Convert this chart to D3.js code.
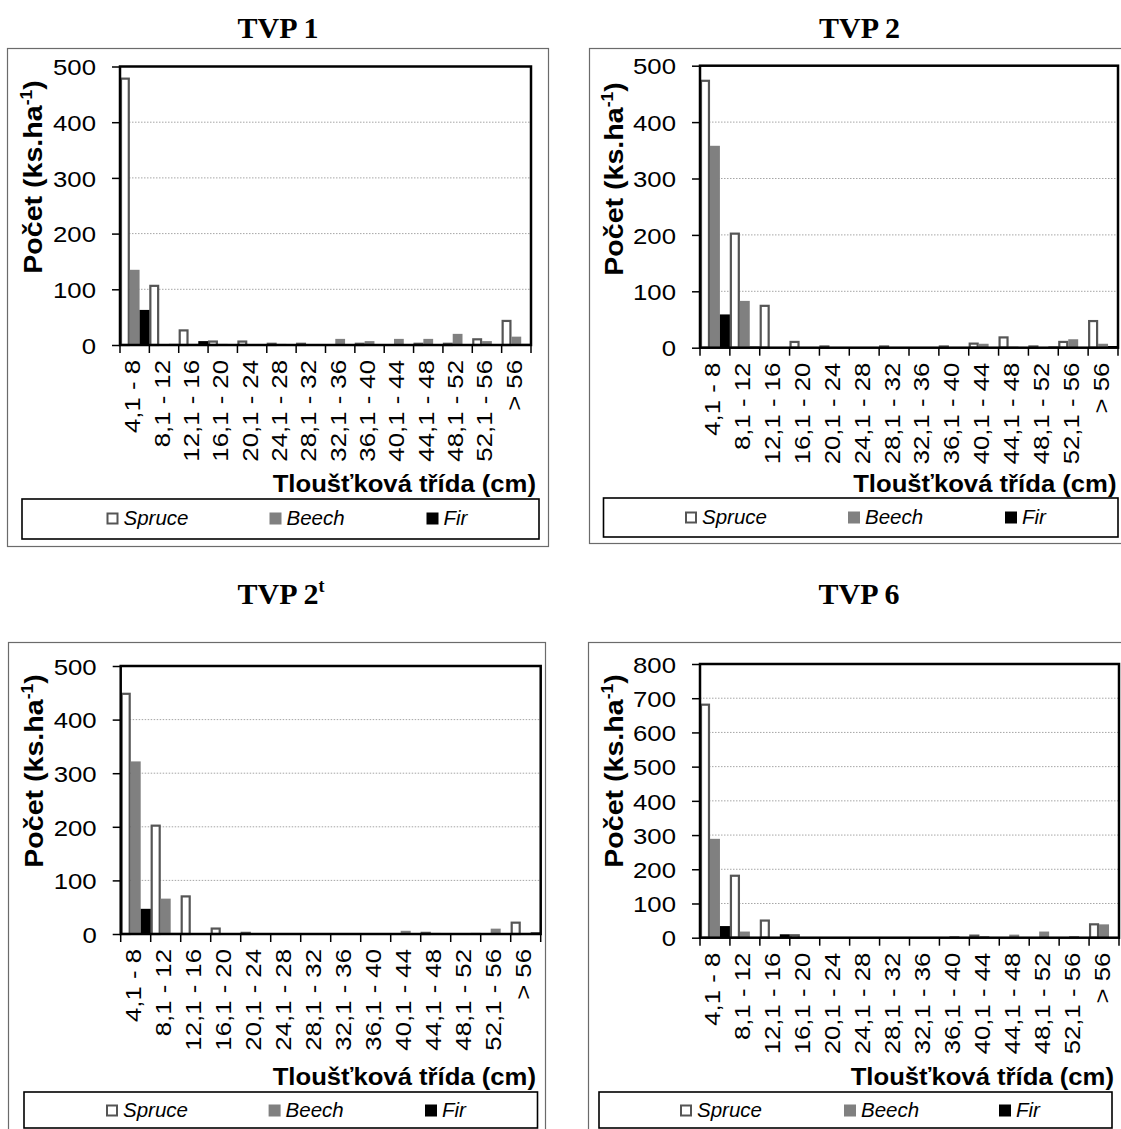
<!DOCTYPE html>
<html><head><meta charset="utf-8">
<script src="https://cdn.jsdelivr.net/npm/d3@7"></script>
<style>body{margin:0;background:#fff} svg{display:block}</style>
</head><body>
<svg id="c" width="1121" height="1129"></svg>
<script>
// ---------- DATA ----------
const categories = ["4,1 - 8","8,1 - 12","12,1 - 16","16,1 - 20","20,1 - 24","24,1 - 28","28,1 - 32",
  "32,1 - 36","36,1 - 40","40,1 - 44","44,1 - 48","48,1 - 52","52,1 - 56","> 56"];
const seriesNames = ["Spruce","Beech","Fir"];
const panelTitles = ["TVP 1","TVP 2","TVP 2","TVP 6"];
const panelTitleSup = ["","","t",""];
const xAxisTitle = "Tloušťková třída (cm)";
const yAxisTitle = "Počet (ks.ha";
const yAxisTitleSup = "-1";

const tvp1Spruce = [480,108,28,8,8,4,4,0,4,0,4,4,12,45];
const tvp1Beech  = [135,0,2,2,0,2,0,11,7,11,11,20,7,15];
const tvp1Fir    = [63,2,7,0,0,0,0,0,0,0,0,0,0,2];

const tvp2Spruce = [475,204,76,12,4,0,4,0,4,9,20,4,12,49];
const tvp2Beech  = [358,83,1,0,0,0,0,0,0,7,2,0,15,7];
const tvp2Fir    = [59,2,0,0,0,0,0,0,0,0,0,2,0,3];

const tvp2tSpruce = [450,204,72,12,4,0,0,0,0,0,4,0,0,23];
const tvp2tBeech  = [322,66,1,0,0,0,0,0,0,6,2,0,10,2];
const tvp2tFir    = [47,2,0,0,0,0,0,0,0,0,0,2,0,3];

const tvp6Spruce = [684,184,53,10,0,0,0,0,0,9,0,0,0,42];
const tvp6Beech  = [289,18,0,0,0,0,0,0,5,5,9,18,5,39];
const tvp6Fir    = [34,0,10,0,0,0,0,0,0,0,0,0,0,0];

const yTicks500 = [0,100,200,300,400,500];
const yTicks800 = [0,100,200,300,400,500,600,700,800];

// ---------- LAYOUT / STYLE ----------
const seriesFill = ["#ffffff","#808080","#000000"];
const seriesStroke = ["#555555","none","none"];
const SANS = "'Liberation Sans', Arial, sans-serif";
const SERIF = "'Liberation Serif', 'Times New Roman', serif";

const panels = [
  {values:[tvp1Spruce,tvp1Beech,tvp1Fir], ticks:yTicks500,
   outer:[7,48,548,546], plot:[120,66.5,531,345], title:[278,37.5], ytitle:[42,177],
   xtitle:[536,492], legend:[22,499,539,539], markers:[106.5,269.5,426.5], lbase:525},
  {values:[tvp2Spruce,tvp2Beech,tvp2Fir], ticks:yTicks500,
   outer:[589,48,1135,543], plot:[700,65.7,1118,347.7], title:[859.5,37.5], ytitle:[623,179],
   xtitle:[1116.5,492], legend:[603.5,498,1118,537], markers:[685,848,1005], lbase:524},
  {values:[tvp2tSpruce,tvp2tBeech,tvp2tFir], ticks:yTicks500,
   outer:[8,642,545,1140], plot:[120.7,666,540.7,934], title:[281,604], ytitle:[43,771],
   xtitle:[536,1085], legend:[24,1092,537.5,1128], markers:[106,268.6,425], lbase:1117},
  {values:[tvp6Spruce,tvp6Beech,tvp6Fir], ticks:yTicks800,
   outer:[588,642,1135,1140], plot:[700,664,1119,937.7], title:[859,604], ytitle:[623,771],
   xtitle:[1114,1085], legend:[599,1092,1112,1128], markers:[680,844,999], lbase:1117}
];

const svg = d3.select("#c");
svg.append("rect").attr("width",1121).attr("height",1129).attr("fill","#fff");

panels.forEach((p, pi) => {
  const g = svg.append("g");
  const [ox0,oy0,ox1,oy1] = p.outer;
  const [px0,py0,px1,py1] = p.plot;

  // outer chart border
  g.append("rect").attr("x",ox0+0.5).attr("y",oy0+0.5).attr("width",ox1-ox0).attr("height",oy1-oy0)
    .attr("fill","none").attr("stroke","#6b6b6b").attr("stroke-width",1.2);

  // title
  const t = g.append("text").attr("x",p.title[0]).attr("y",p.title[1]).attr("text-anchor","middle")
    .attr("font-family",SERIF).attr("font-weight","bold").attr("font-size",30).attr("fill","#000")
    .text(panelTitles[pi]);
  if (panelTitleSup[pi]) t.append("tspan").attr("font-size",18).attr("dy",-12).text(panelTitleSup[pi]);

  // scales
  const x = d3.scaleBand().domain(categories).range([px0,px1]).paddingInner(0).paddingOuter(0);
  const xs = d3.scaleBand().domain(seriesNames).range([0,x.bandwidth()]).padding(0);
  const yMax = p.ticks[p.ticks.length-1];
  const y = d3.scaleLinear().domain([0,yMax]).range([py1,py0]);

  // gridlines
  g.append("g").selectAll("line").data(p.ticks.filter(v => v>0 && v<yMax)).join("line")
    .attr("x1",px0).attr("x2",px1).attr("y1",d=>y(d)).attr("y2",d=>y(d))
    .attr("stroke","#a6a6a6").attr("stroke-width",1).attr("stroke-dasharray","1.5,1.5");

  // bars
  seriesNames.forEach((s, si) => {
    const vals = p.values[si];
    g.append("g").selectAll("rect").data(categories.map((c,i)=>({c, v: vals[i]})).filter(d=>d.v>0)).join("rect")
      .attr("x", d => x(d.c) + xs(s) + (si===0 ? 1 : 0))
      .attr("width", xs.bandwidth() - (si===0 ? 2 : 0))
      .attr("y", d => y(d.v) + (si===0 ? 1 : 0))
      .attr("height", d => Math.max(0, py1 - y(d.v) - (si===0 ? 1 : 0)))
      .attr("fill", seriesFill[si])
      .attr("stroke", seriesStroke[si])
      .attr("stroke-width", si===0 ? 2.2 : 0);
  });

  // plot border
  g.append("rect").attr("x",px0).attr("y",py0).attr("width",px1-px0).attr("height",py1-py0)
    .attr("fill","none").attr("stroke","#000").attr("stroke-width",2.5);

  // y axis
  const yAxis = g.append("g").attr("transform",`translate(${px0},0)`)
    .call(d3.axisLeft(y).tickValues(p.ticks).tickSize(8).tickPadding(16).tickFormat(d3.format("d")));
  yAxis.select(".domain").remove();
  yAxis.selectAll(".tick line").attr("stroke","#000").attr("stroke-width",1.5);
  yAxis.selectAll(".tick text")
    .attr("font-family",SANS).attr("font-size",23).attr("fill","#000")
    .attr("x",null).attr("dy","0.36em")
    .attr("transform","translate(-24,0) scale(1.12,1)");

  // x axis: labels via axisBottom, boundary ticks from band scale
  const xAxis = g.append("g").attr("transform",`translate(0,${py1})`)
    .call(d3.axisBottom(x).tickSize(0).tickPadding(0));
  xAxis.select(".domain").remove();
  xAxis.selectAll(".tick text")
    .attr("font-family",SANS).attr("font-size",23).attr("fill","#000")
    .attr("y",null).attr("dy",null).attr("x",null)
    .attr("text-anchor","end")
    .attr("transform","translate(5.5,15) rotate(-90) scale(1.12,1)");
  const bounds = categories.map(c => x(c)).concat([px1]);
  g.append("g").selectAll("line").data(bounds).join("line")
    .attr("x1",d=>d).attr("x2",d=>d).attr("y1",py1).attr("y2",py1+8)
    .attr("stroke","#000").attr("stroke-width",1.5);

  // axis titles
  g.append("text")
    .attr("transform",`translate(${p.xtitle[0]},${p.xtitle[1]}) scale(1.07,1)`)
    .attr("text-anchor","end").attr("font-family",SANS).attr("font-weight","bold").attr("font-size",24)
    .attr("fill","#000").text(xAxisTitle);
  const yt = g.append("text")
    .attr("transform",`translate(${p.ytitle[0]},${p.ytitle[1]}) rotate(-90) scale(1.1,1)`)
    .attr("text-anchor","middle").attr("font-family",SANS).attr("font-weight","bold").attr("font-size",26)
    .attr("fill","#000").text(yAxisTitle);
  yt.append("tspan").attr("font-size",16).attr("dy",-10).text(yAxisTitleSup);
  yt.append("tspan").attr("dy",10).text(")");

  // legend
  const [lx0,ly0,lx1,ly1] = p.legend;
  g.append("rect").attr("x",lx0).attr("y",ly0).attr("width",lx1-lx0).attr("height",ly1-ly0)
    .attr("fill","#fff").attr("stroke","#000").attr("stroke-width",1.6);
  seriesNames.forEach((s, si) => {
    const mx = p.markers[si];
    g.append("rect").attr("x",mx+ (si===0?1:0)).attr("y",p.lbase-12.5+(si===0?1:0))
      .attr("width",12-(si===0?2:0)).attr("height",12-(si===0?2:0))
      .attr("fill",seriesFill[si]).attr("stroke",seriesStroke[si]).attr("stroke-width",si===0?2:0);
    g.append("text").attr("x",mx+17).attr("y",p.lbase)
      .attr("font-family",SANS).attr("font-style","italic").attr("font-size",20.5).attr("fill","#000")
      .text(s);
  });
});
</script>
</body></html>
